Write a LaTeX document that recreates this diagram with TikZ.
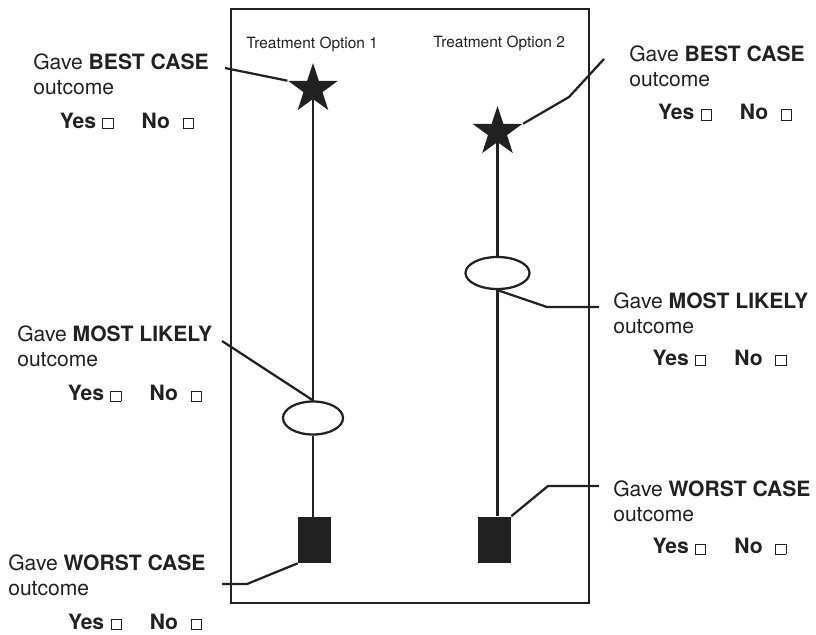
\documentclass[tikz,border=0pt]{standalone}
\usepackage{fontspec}
\setmainfont{TeX Gyre Heros}
\usetikzlibrary{shapes.geometric}
\definecolor{ink}{gray}{0.13}
% small tick box and the Yes/No line under each label
\newcommand{\ckbox}{{\fboxsep=0pt\fboxrule=0.65pt\fbox{\rule{0pt}{6.6pt}\hspace{6.6pt}}}}
\newcommand{\yesno}[1]{\hspace*{#1}\textbf{Yes}\hspace{4.5pt}\ckbox\hspace{20pt}\textbf{No}\hspace{9pt}\ckbox}

\tikzset{
  lbl/.style={anchor=north west, inner sep=0pt, align=left, text=ink,
    font=\fontsize{15}{17.8}\selectfont},
  optlbl/.style={anchor=base west, inner sep=0pt, text=ink,
    font=\fontsize{11}{13}\selectfont},
  stem/.style={draw=ink, line width=1.6pt},
  bestmark/.style={shape=star, star points=5, star point ratio=2.6,
    minimum size=1.3cm, inner sep=0pt, fill=ink},
  likelymark/.style={shape=ellipse, draw=ink, line width=1.6pt, fill=white,
    inner sep=0pt},
  worstmark/.style={rectangle, fill=ink, inner sep=0pt,
    minimum width=0.825cm, minimum height=1.15cm},
}

\begin{document}
\begin{tikzpicture}[x=0.025cm, y=-0.025cm]
    \useasboundingbox (0,0) rectangle (816,634);
    \draw [draw=ink, line width=2.1pt] (231,9) rectangle (589,603);

    \node [optlbl] (opt1) at (246,48) {Treatment Option 1};
    \node [optlbl] (opt2) at (433,47) {Treatment Option 2};

    % option 1
    \draw [stem] (313,89) -- (313,410);
    \node [bestmark] (star1) at (313,89) {};
    \node [likelymark, minimum width=1.5cm, minimum height=0.825cm] (ml1) at (313,418) {};
    \node [worstmark] (wc1) at (314.5,540) {};
    \draw [stem] (ml1.south) -- (ml1.south |- wc1.north);

    % option 2
    \draw [stem] (497.5,132) -- (497.5,265);
    \node [bestmark] (star2) at (497.5,132) {};
    \node [likelymark, minimum width=1.6cm, minimum height=0.8cm] (ml2) at (497.5,273) {};
    \node [worstmark] (wc2) at (494.5,539.5) {};
    \draw [stem] (ml2.south) -- (ml2.south |- wc2.north);

    % labels
    \node [lbl] (bc1) at (33,53) {Gave \textbf{BEST CASE}\\outcome\\[6.5pt]\yesno{19pt}};
    \node [lbl] (bc2) at (629,45) {Gave \textbf{BEST CASE}\\outcome\\[6pt]\yesno{20.5pt}};
    \node [lbl] (lk1) at (17,325) {Gave \textbf{MOST LIKELY}\\outcome\\[7pt]\yesno{36pt}};
    \node [lbl] (lk2) at (613,292) {Gave \textbf{MOST LIKELY}\\outcome\\[5pt]\yesno{28pt}};
    \node [lbl] (wc1lbl) at (8,554) {Gave \textbf{WORST CASE}\\outcome\\[6.5pt]\yesno{42.5pt}};
    \node [lbl] (wc2lbl) at (613,480) {Gave \textbf{WORST CASE}\\outcome\\[5.5pt]\yesno{28pt}};

    % leaders
    \coordinate (bc1end) at (225,68);
    \coordinate (bc2bend) at (569,97);
    \coordinate (bc2end) at (604,59);
    \coordinate (lk1end) at (222,341);
    \coordinate (lk2bend) at (547,307);
    \coordinate (lk2end) at (599,307);
    \coordinate (wc1end) at (222,584);
    \coordinate (wc1bend) at (247,584);
    \coordinate (wc2bend) at (548,486);
    \coordinate (wc2end) at (599,486);
    \draw [stem] (bc1end) -- (star1.162);
    \draw [stem] (star2.18) -- (bc2bend) -- (bc2end);
    \draw [stem] (lk1end) -- (ml1.north);
    \draw [stem] (ml2.south) -- (lk2bend) -- (lk2end);
    \draw [stem] (wc1end) -- (wc1bend) -- (wc1.south west);
    \draw [stem] (wc2.north east) -- (wc2bend) -- (wc2end);
\end{tikzpicture}
\end{document}
